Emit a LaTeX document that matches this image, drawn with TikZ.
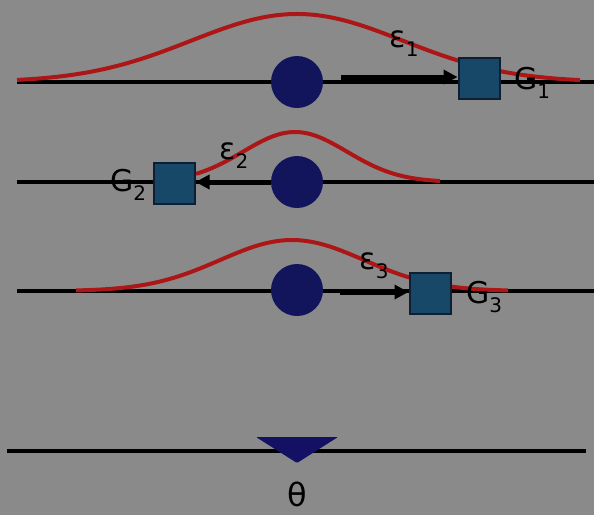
\documentclass[tikz,border=0pt]{standalone}
\usepackage{fontspec}
\setmainfont{DejaVu Sans}
\usetikzlibrary{arrows.meta}
\definecolor{bg}{RGB}{138,138,138}
\definecolor{curvered}{RGB}{172,22,22}
\definecolor{navy}{RGB}{18,20,92}
\definecolor{steel}{RGB}{24,72,104}
\definecolor{darksteel}{RGB}{14,30,52}
\definecolor{wedge}{RGB}{20,16,100}
% label with a lowered index
\newcommand\symsub[2]{#1\raisebox{-9pt}{\fontsize{20}{20}\selectfont #2}}
\begin{document}
\begin{tikzpicture}[x=1pt,y=-1pt,
  axis/.style={line width=3.5pt, black},
  density/.style={line width=4pt, curvered},
  shiftarrow/.style={line width=5pt, black, -{Triangle[length=14pt,width=14pt]}},
  mean/.style={circle, fill=navy, minimum size=52pt, inner sep=0pt},
  obs/.style={rectangle, fill=steel, draw=darksteel, line width=2pt, minimum size=41pt, inner sep=0pt},
  lbl/.style={font=\fontsize{30}{32}\selectfont, inner sep=0pt, text=black}]
\fill[bg] (0,0) rectangle (594,515);
\useasboundingbox (0,0) rectangle (594,515);

% horizontal axes
\draw[axis] (17,82) -- (594,82);
\draw[axis] (17,182) -- (594,182);
\draw[axis] (17,291) -- (594,291);
\draw[axis] (7,451) -- (586,451);

% density curves
\draw[density] plot[domain=17:580, samples=120, smooth] (\x, {82-68*exp(-0.5*((\x-297)/106)^2)});
\draw[density] plot[domain=196:440, samples=80, smooth] (\x, {182-50*exp(-0.5*((\x-295)/52)^2)});
\draw[density] plot[domain=76:508, samples=100, smooth] (\x, {291-51*exp(-0.5*((\x-292)/72)^2)});

% means and observations
\node[mean] (c1) at (297,82) {};
\node[mean] (c2) at (297,182) {};
\node[mean] (c3) at (297,290) {};
\node[obs] (s1) at (479,78) {};
\node[obs] (s2) at (174,183) {};
\node[obs] (s3) at (430,293) {};

% error arrows
\coordinate (a1) at (341,77);
\coordinate (a2) at (271,182);
\coordinate (a3) at (340,292);
\draw[shiftarrow] (a1) -- (s1.west |- a1);
\draw[shiftarrow] (a2) -- (s2.east |- a2);
\draw[shiftarrow] (a3) -- (s3.west |- a3);

% labels
\node[lbl] (e1) at (404,44) {\symsub{ε}{1}};
\node[lbl] (g1) at (532,83) {\symsub{G}{1}};
\node[lbl] (e2) at (234,156) {\symsub{ε}{2}};
\node[lbl] (g2) at (128,185) {\symsub{G}{2}};
\node[lbl] (e3) at (374,266) {\symsub{ε}{3}};
\node[lbl] (g3) at (484,297) {\symsub{G}{3}};

% parameter marker
\fill[wedge, rounded corners=1pt] (256,437) -- (338,437) -- (297,463) -- cycle;
\node[font=\fontsize{32}{34}\selectfont, inner sep=0pt] (th) at (297,494) {θ};
\end{tikzpicture}
\end{document}
